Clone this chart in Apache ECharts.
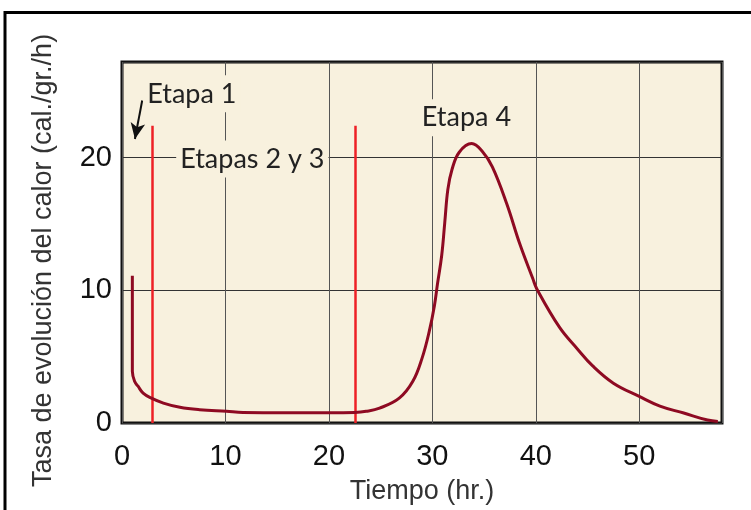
<!DOCTYPE html>
<html><head><meta charset="utf-8">
<script src="https://cdn.jsdelivr.net/npm/echarts@6/dist/echarts.min.js"></script>
<style>html,body{margin:0;padding:0;background:#fff}#c{width:751px;height:510px}</style>
</head><body><div id="c"></div>
<script>
// Heat evolution curve: [time (hr), rate (cal/gr/h)]
const curveTime = [1.0,1.0,1.23,1.55,2.04,2.84,4.0,5.6,7.5,10.1,11.7,16,20,22.5,23.6,24.9,26.8,28.1,29.0,29.7,30.2,30.5,30.9,31.2,31.5,31.9,32.6,33.8,34.8,35.8,37.2,38.45,39.7,40.1,42.3,44.0,45.5,47.5,50.0,52.0,54.3,56.6,57.6];
const curveRate = [11.1,3.9,3.12,2.77,2.25,1.87,1.5,1.18,1.0,0.88,0.8,0.78,0.78,0.8,0.88,1.12,1.87,3.12,4.87,6.9,8.84,10.5,12.6,15.1,17.6,19.1,20.4,21.05,20.5,19.3,16.5,13.5,10.9,10.1,7.2,5.6,4.3,3.0,2.0,1.27,0.75,0.22,0.12];
// Stage boundary lines (time), with their top value
const stageLineTimes = [2.9, 22.5];
const stageLineTop = 22.4;
// Stage labels
const stageLabels = ['Etapa 1', 'Etapas 2 y 3', 'Etapa 4'];
const stageLabelTime = [6.75, 12.6, 33.3];
const stageLabelRate = [24.8, 19.9, 23.0];
// Arrow for Etapa 1 (from -> to)
const arrowFrom = [1.95, 24.3];
const arrowTo = [1.25, 21.4];
// Axis ticks
const xTicks = [0, 10, 20, 30, 40, 50];
const yTicks = [0, 10, 20];

const data = curveTime.map((t, i) => [t, curveRate[i]]);
const bg = '#f8f1de';
const chart = echarts.init(document.getElementById('c'), null, {renderer: 'canvas'});
chart.setOption({
  animation: false,
  backgroundColor: '#fff',
  grid: {left: 122, right: 29, top: 62, bottom: 85, show: true, backgroundColor: bg, borderColor: '#111', borderWidth: 3},
  xAxis: {
    type: 'value', min: 0, max: 58, interval: 10,
    name: 'Tiempo (hr.)', nameLocation: 'middle', nameGap: 55,
    nameTextStyle: {fontFamily: 'Liberation Sans', fontSize: 27, color: '#333'},
    axisLine: {show: false}, axisTick: {show: false},
    axisLabel: {fontFamily: 'Liberation Sans', fontSize: 29, color: '#111', margin: 19,
      formatter: v => xTicks.includes(v) ? String(v) : ''},
    splitLine: {show: true, lineStyle: {color: '#555', width: 1}}
  },
  yAxis: {
    type: 'value', min: 0, max: 27.2, interval: 10,
    name: 'Tasa de evolución del calor (cal./gr./h)', nameLocation: 'middle', nameGap: 65,
    nameTextStyle: {fontFamily: 'Liberation Sans', fontSize: 27, color: '#333', padding: [0, 36, 0, 0]},
    axisLine: {show: false}, axisTick: {show: false},
    axisLabel: {fontFamily: 'Liberation Sans', fontSize: 29, color: '#111', margin: 10,
      formatter: v => yTicks.includes(v) ? String(v) : ''},
    splitLine: {show: true, lineStyle: {color: '#333', width: 1}}
  },
  graphic: [{
    type: 'rect', shape: {x: 5, y: 12.5, width: 900, height: 700},
    style: {fill: 'none', stroke: '#000', lineWidth: 3}, silent: true
  }],
  series: [
    {
      type: 'line', data: data, smooth: 0.4, symbol: 'none', z: 5,
      lineStyle: {color: '#8e0a22', width: 3},
      markLine: {
        silent: true, symbol: 'none', z: 4,
        lineStyle: {color: '#ee2026', width: 2.5, type: 'solid'},
        label: {show: false},
        data: stageLineTimes.map(t => [{coord: [t, 0]}, {coord: [t, stageLineTop]}])
      },
      markPoint: {
        silent: true, symbol: 'circle', symbolSize: 0,
        data: stageLabels.map((s, i) => ({
          coord: [stageLabelTime[i], stageLabelRate[i]],
          label: {show: true, formatter: s, position: 'inside',
            fontFamily: 'Lato', fontSize: 27, color: '#222',
            backgroundColor: bg, padding: [5, 4, 5, 4]}
        }))
      }
    },
    {
      type: 'line', data: [], z: 6,
      markLine: {
        silent: true, symbol: ['none', 'arrow'], symbolSize: [11, 16],
        lineStyle: {color: '#111', width: 2, type: 'solid'},
        label: {show: false},
        data: [[{coord: arrowFrom}, {coord: arrowTo}]]
      }
    }
  ]
});
</script></body></html>
